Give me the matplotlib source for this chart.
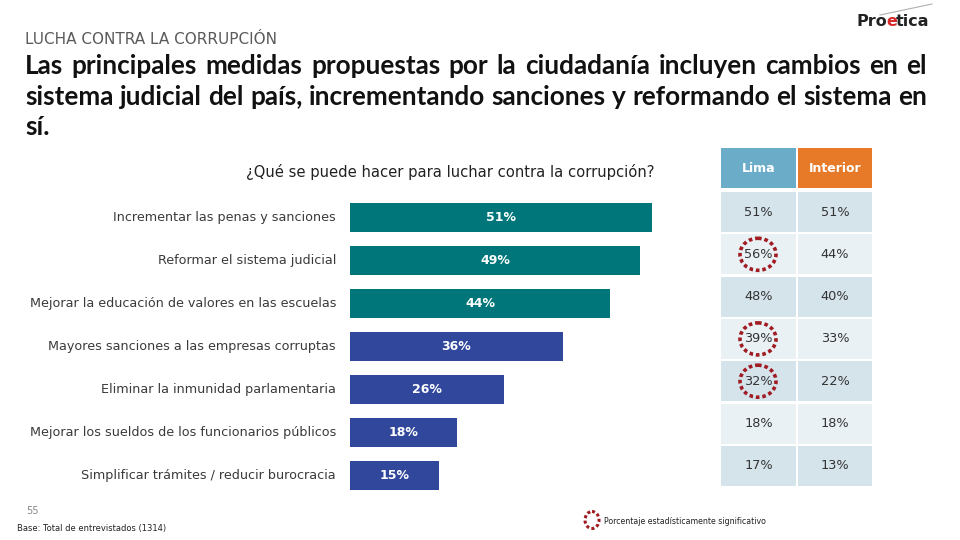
import matplotlib
matplotlib.use("Agg")
import matplotlib.pyplot as plt
from matplotlib.patches import Rectangle, Ellipse
import numpy as np

# ─── data ───────────────────────────────────────────────────────
categories = [
    "Incrementar las penas y sanciones",
    "Reformar el sistema judicial",
    "Mejorar la educación de valores en las escuelas",
    "Mayores sanciones a las empresas corruptas",
    "Eliminar la inmunidad parlamentaria",
    "Mejorar los sueldos de los funcionarios públicos",
    "Simplificar trámites / reducir burocracia",
]
total    = [51, 49, 44, 36, 26, 18, 15]
lima     = [51, 56, 48, 39, 32, 18, 17]
interior = [51, 44, 40, 33, 22, 18, 13]
lima_sig = [False, True, False, True, True, False, False]
top_group = 3  # first three bars in teal

title_small = "LUCHA CONTRA LA CORRUPCIÓN"
title_lines = [
    "Las principales medidas propuestas por la ciudadanía incluyen cambios en el",
    "sistema judicial del país, incrementando sanciones y reformando el sistema en",
    "sí.",
]
question = "¿Qué se puede hacer para luchar contra la corrupción?"
col_heads = ["Lima", "Interior"]
base_note = "Base: Total de entrevistados (1314)"
legend_note = "Porcentaje estadísticamente significativo"
page_no = "55"

# ─── style ─────────────────────────────────────────────────────
TEAL, BLUE = "#00767a", "#30479b"
LIMA_C, INT_C = "#6badc8", "#e67a28"
ROW_DARK, ROW_LIGHT = "#d5e3eb", "#e9f1f5"
SIG_RED = "#a01c22"
TITLE_FONT = ["Lato", "DejaVu Sans"]
W, H = 960, 540

fig = plt.figure(figsize=(9.6, 5.4), dpi=100)
fig.patch.set_facecolor("white")

# overlay in pixel coords
ov = fig.add_axes([0, 0, 1, 1])
ov.set_xlim(0, W); ov.set_ylim(H, 0); ov.axis("off")
renderer = fig.canvas.get_renderer()

def text_w(s, **kw):
    t = ov.text(0, 0, s, **kw)
    w = t.get_window_extent(renderer=renderer).width
    t.remove()
    return w

# ─── titles ────────────────────────────────────────────────────
ov.text(25, 40, title_small, fontsize=11, color="#5a5a5a", va="center",
        ha="left")

# pick a size so that the first line nearly fills the width
x_l, x_r = 25, 927
w10 = text_w(title_lines[0], fontsize=10, fontweight="bold", family=TITLE_FONT)
tsize = 10 * (x_r - x_l - 20) / w10

def justify(line, y, last=False):
    words = line.split()
    kw = dict(fontsize=tsize, fontweight="bold", family=TITLE_FONT,
              color="#111111", va="center", ha="left")
    widths = [text_w(w, **kw) for w in words]
    space = ((x_r - x_l) - sum(widths)) / max(len(words) - 1, 1)
    if last:
        space = 5
    x = x_l
    for w, wd in zip(words, widths):
        ov.text(x, y, w, **kw)
        x += wd + space

title_y = [66, 97, 127]
for i, (ln, y) in enumerate(zip(title_lines, title_y)):
    justify(ln, y, last=(i == len(title_lines) - 1))

# logo
ov.plot([880, 932], [15, 4], color="#b0b0b0", lw=0.8)
logo_kw = dict(fontsize=11.5, fontweight="bold", family=["DejaVu Sans"],
               va="center", ha="left")
lx = 857
x_e = lx + text_w("Pro", **logo_kw) - 1.5
x_t = x_e + text_w("e", **logo_kw) - 1
ov.text(lx, 22, "Pro", color="#222222", **logo_kw)
ov.text(x_e, 22, "e", color="#d62a2a", **logo_kw)
ov.text(x_t, 22, "tica", color="#222222", **logo_kw)

# ─── bar chart ─────────────────────────────────────────────────
px_per_pct = 5.92
x_left, x_max = 350, 60
y_top, y_bot = 196, 497
ax = fig.add_axes([x_left / W, (H - y_bot) / H,
                   x_max * px_per_pct / W, (y_bot - y_top) / H])
ax.patch.set_alpha(0)
n = len(categories)
ypos = np.arange(n)
colors = [TEAL if i < top_group else BLUE for i in range(n)]
ax.barh(ypos, total, height=0.68, color=colors)
ax.set_xlim(0, x_max)
ax.set_ylim(n - 0.5, -0.5)
ax.axis("off")
for y, v in zip(ypos, total):
    ax.text(v / 2, y, f"{v}%", color="white", fontsize=9, fontweight="bold",
            ha="center", va="center")
    ax.text(-14 / px_per_pct, y, categories[y], color="#3a3a3a", fontsize=9.2,
            ha="right", va="center")

ov.text(450, 172, question, fontsize=10.6, color="#222222", ha="center",
        va="center")

# ─── table ─────────────────────────────────────────────────────
col_x = [(721, 796), (798, 872)]
head_y = (148, 188)
row_top, row_pitch, row_h = 192, 42.3, 40
for (x0, x1), head, c in zip(col_x, col_heads, [LIMA_C, INT_C]):
    ov.add_patch(Rectangle((x0, head_y[0]), x1 - x0, head_y[1] - head_y[0],
                           facecolor=c, edgecolor="none"))
    ov.text((x0 + x1) / 2, (head_y[0] + head_y[1]) / 2, head, color="white",
            fontsize=9, fontweight="bold", ha="center", va="center")

for i in range(n):
    y0 = row_top + i * row_pitch
    fc = ROW_DARK if i % 2 == 0 else ROW_LIGHT
    for (x0, x1), vals in zip(col_x, [lima, interior]):
        ov.add_patch(Rectangle((x0, y0), x1 - x0, row_h, facecolor=fc,
                               edgecolor="none"))
        ov.text((x0 + x1) / 2, y0 + row_h / 2, f"{vals[i]}%",
                color="#333333", fontsize=9.3, ha="center", va="center")
    if lima_sig[i]:
        cx = (col_x[0][0] + col_x[0][1]) / 2 - 0.5
        ov.add_patch(Ellipse((cx, y0 + row_h / 2), 36, 32, fill=False,
                             edgecolor=SIG_RED, lw=2.6, linestyle=(0, (1, 0.8))))

# ─── footer ────────────────────────────────────────────────────
ov.text(26, 511, page_no, fontsize=7, color="#888888", va="center")
ov.text(17, 528, base_note, fontsize=6, color="#222222", va="center")
ov.add_patch(Ellipse((592, 520), 14, 17, fill=False, edgecolor=SIG_RED,
                     lw=2.2, linestyle=(0, (1, 0.8))))
ov.text(604, 522, legend_note, fontsize=5.7, color="#222222", va="center")

fig.savefig("out.png", dpi=100)
